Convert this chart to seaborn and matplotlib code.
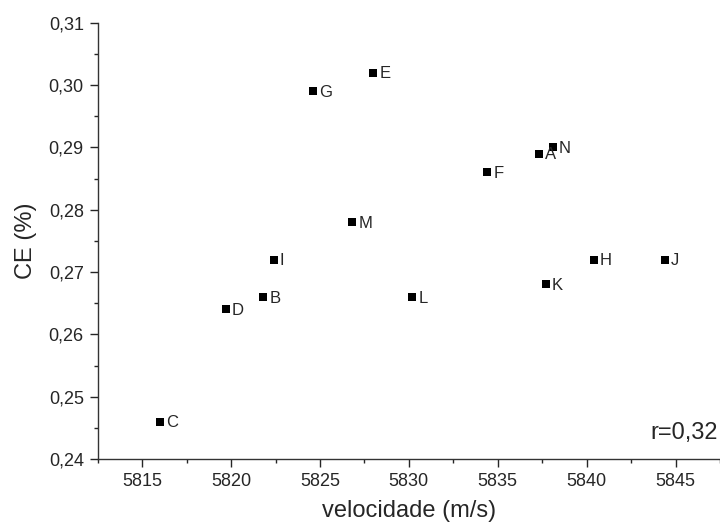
import matplotlib
matplotlib.use("Agg")
import matplotlib.pyplot as plt
from matplotlib.ticker import FuncFormatter, MultipleLocator, AutoMinorLocator
import pandas as pd
import seaborn as sns

# valores
amostras = ["A", "B", "C", "D", "E", "F", "G", "H", "I", "J", "K", "L", "M", "N"]
velocidade = [5837.3, 5821.8, 5816.0, 5819.7, 5828.0, 5834.4, 5824.6,
              5840.4, 5822.4, 5844.4, 5837.7, 5830.2, 5826.8, 5838.1]
ce = [0.289, 0.266, 0.246, 0.264, 0.302, 0.286, 0.299,
      0.272, 0.272, 0.272, 0.268, 0.266, 0.278, 0.290]
r_texto = "r=0,32"

df = pd.DataFrame({"amostra": amostras, "velocidade": velocidade, "ce": ce})

sns.set_style("ticks")
plt.rcParams["font.family"] = ["Liberation Sans", "DejaVu Sans"]

fig = plt.figure(figsize=(7.2, 5.22), dpi=100)
ax = fig.add_axes([0.1357, 0.1207, 0.8643, 0.8358])

sns.scatterplot(data=df, x="velocidade", y="ce", marker="s", color="black",
                s=30, edgecolor="black", linewidth=0, ax=ax)

for _, row in df.iterrows():
    ax.annotate(row["amostra"], (row["velocidade"], row["ce"]),
                xytext=(4.5, -1), textcoords="offset points",
                ha="left", va="center", fontsize=12)

ax.set_xlim(5812.5, 5847.5)
ax.set_ylim(0.24, 0.31)
ax.xaxis.set_major_locator(MultipleLocator(5))
ax.xaxis.set_minor_locator(AutoMinorLocator(2))
ax.yaxis.set_major_locator(MultipleLocator(0.01))
ax.yaxis.set_minor_locator(AutoMinorLocator(2))
ax.yaxis.set_major_formatter(FuncFormatter(lambda v, p: f"{v:.2f}".replace(".", ",")))
ax.xaxis.set_major_formatter(FuncFormatter(lambda v, p: f"{v:.0f}"))

ax.tick_params(which="major", length=6, width=1, labelsize=13, direction="out", pad=4)
ax.tick_params(which="minor", length=3, width=1, direction="out")
for s in ["left", "bottom"]:
    ax.spines[s].set_color("#333333")
    ax.spines[s].set_linewidth(1)
sns.despine(ax=ax)

ax.set_xlabel("velocidade (m/s)", fontsize=17)
ax.set_ylabel("CE (%)", fontsize=17)
ax.xaxis.set_label_coords(0.5, -0.094)
ax.yaxis.set_label_coords(-0.097, 0.5)

ax.text(0.996, 0.035, r_texto, transform=ax.transAxes, ha="right", va="bottom", fontsize=17)

fig.savefig("out.png", dpi=100)
